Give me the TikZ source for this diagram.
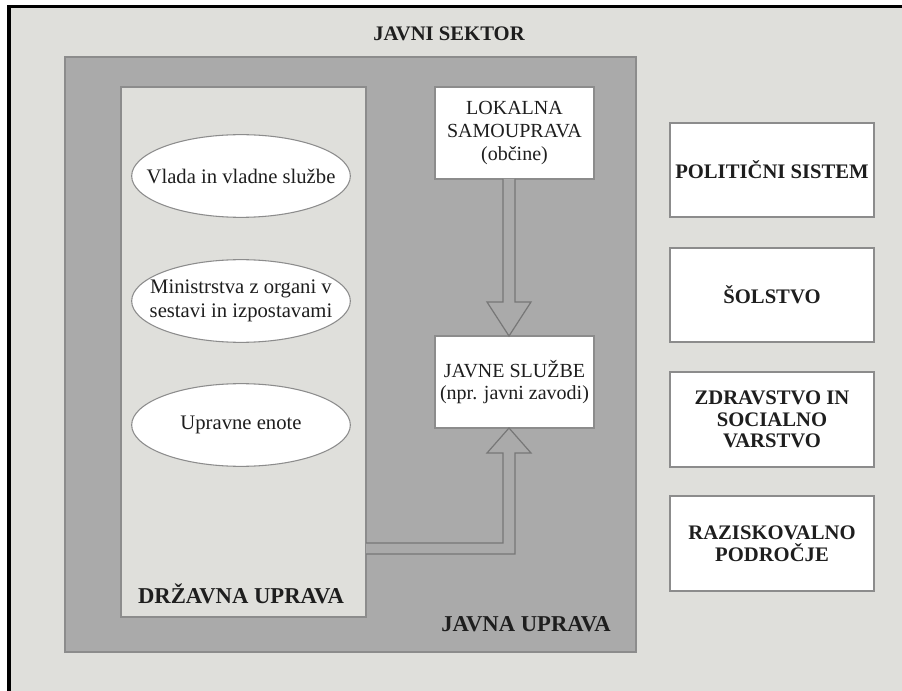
\documentclass[tikz,border=0pt]{standalone}
\usepackage{fontspec}
\setmainfont{Liberation Serif}
\usetikzlibrary{shapes.geometric,fit}
\definecolor{bg}{HTML}{DFDFDB}
\definecolor{midgray}{HTML}{AAAAAA}
\definecolor{edge}{HTML}{8C8C8C}
\definecolor{ink}{HTML}{1E1E1E}
\begin{document}
\begin{tikzpicture}[x=0.75pt,y=-0.75pt,
  every node/.style={font=\fontsize{15}{17}\selectfont, text=ink},
  panel/.style={draw=edge, line width=0.9pt, inner sep=0pt},
  whitebox/.style={draw=edge, fill=white, line width=0.9pt, inner sep=0pt, align=center},
  oval/.style={ellipse, draw=edge, fill=white, line width=0.8pt, minimum width=164pt, minimum height=62pt, inner sep=0pt},
  ovaltext/.style={font=\fontsize{15.5}{17.5}\selectfont, align=center},
  blockarrow/.style={draw=edge!85!black, fill=midgray, line width=0.9pt, line join=miter},
  boldtext/.style={font=\fontsize{15.5}{16.3}\selectfont\bfseries, align=center},
  paneltext/.style={font=\fontsize{17}{18}\selectfont\bfseries}
]
\useasboundingbox (0,0) rectangle (902,691);
\fill[white] (0,0) rectangle (902,691);
\fill[black] (7,5) rectangle (902,691);
\fill[bg] (11,8) rectangle (902,691);

\node[boldtext] (sektor) at (449,34) {JAVNI SEKTOR};

% javna uprava panel
\node[panel, fill=midgray, fit={(65,57)(636,652)}] (ju) {};
\node[paneltext] (jutext) at (526,624) {JAVNA UPRAVA};

% drzavna uprava panel
\node[panel, fill=bg, fit={(121,87)(366,617)}] (du) {};
\node[paneltext] (dutext) at (241,594) {DRŽAVNA UPRAVA};

\node[oval] (vlada) at (241,176) {};
\node[ovaltext] at (vlada.center) {Vlada in vladne službe};
\node[oval] (min) at (241,301) {};
\node[ovaltext] at (min.center) {Ministrstva z organi v\\sestavi in izpostavami};
\node[oval] (ue) at (241,425) {};
\node[ovaltext] at (ue.center) {Upravne enote};

% lokalna & javne sluzbe
\node[whitebox, fit={(435,87)(594,179)}] (lok) {};
\node[align=center] at (lok.center) {LOKALNA\\SAMOUPRAVA\\(občine)};
\node[whitebox, fit={(435,336)(594,428)}] (js) {};
\node[align=center] at (js.center) {JAVNE SLUŽBE\\(npr. javni zavodi)};

% down block arrow
\coordinate (dtip) at (509,336);
\draw[blockarrow] (503,179) -- (503,302) -- (487,302) -- (dtip) -- (531,302) -- (515,302) -- (515,179);

% L-shaped up block arrow
\coordinate (utip) at (509,428);
\draw[blockarrow] (366,543) -- (503,543) -- (503,453) -- (487,453) -- (utip) -- (531,453) -- (515,453) -- (515,554) -- (366,554);

% right column
\node[whitebox, fit={(670,123)(874,217)}] (pol) {};
\node[boldtext] at (pol.center) {POLITIČNI SISTEM};
\node[whitebox, fit={(670,248)(874,342)}] (sol) {};
\node[boldtext] at (sol.center) {ŠOLSTVO};
\node[whitebox, fit={(670,372)(874,467)}] (zdr) {};
\node[boldtext] at (zdr.center) {ZDRAVSTVO IN\\SOCIALNO\\VARSTVO};
\node[whitebox, fit={(670,496)(874,591)}] (raz) {};
\node[boldtext] at (raz.center) {RAZISKOVALNO\\PODROČJE};
\end{tikzpicture}
\end{document}
